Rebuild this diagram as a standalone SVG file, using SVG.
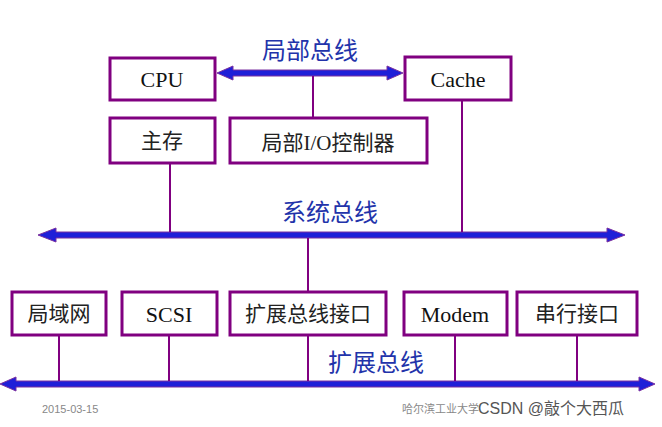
<svg xmlns="http://www.w3.org/2000/svg" width="662" height="427" viewBox="0 0 662 427">
<style>
.box{fill:#fff;stroke:#800080;stroke-width:3}
.ln{stroke:#800080;stroke-width:2;fill:none}
.bus{fill:#1f1fd8;stroke:#7a30a0;stroke-width:1}
.t{font-family:"Liberation Serif","Noto Sans CJK SC",serif;font-size:22px;fill:#111;text-anchor:middle}
.c{font-family:"Liberation Serif","Noto Sans CJK SC",sans-serif;font-size:21px;fill:#222;text-anchor:middle}
.bl{font-family:"Noto Sans CJK SC",sans-serif;font-size:24px;fill:#2233aa;text-anchor:middle}
.f{font-family:"Liberation Sans","Noto Sans CJK SC",sans-serif;font-size:11px;fill:#888}
</style>
<rect width="662" height="427" fill="#fff"/>
<g id="connectors">
<polygon class="bus" points="217,73 233,66 233,70 387,70 387,66 403,73 387,80 387,76 233,76 233,80"/>
<polygon class="bus" points="38,235 56,228 56,232 607,232 607,228 625,235 607,242 607,238 56,238 56,242"/>
<polygon class="bus" points="0,384 16,377 16,381 639,381 639,377 655,384 639,391 639,387 16,387 16,391"/>
<path class="ln" d="M313,76V118M462,100V232M170,163V232M308,238V292M59,335V381M169,335V381M308,335V381M455,335V381M577,335V381"/>
</g>
<g id="cpu"><rect class="box" x="110" y="58" width="105" height="42"/><text class="t" x="162" y="87">CPU</text></g>
<g id="cache"><rect class="box" x="405" y="57" width="106" height="43"/><text class="t" x="458" y="87">Cache</text></g>
<g id="mem"><rect class="box" x="110" y="118" width="105" height="45"/><text class="c" x="162" y="148">主存</text></g>
<g id="lio"><rect class="box" x="230" y="118" width="197" height="45"/><text class="c" x="328" y="150">局部I/O控制器</text></g>
<g id="lan"><rect class="box" x="12" y="292" width="94" height="43"/><text class="c" x="59" y="321">局域网</text></g>
<g id="scsi"><rect class="box" x="122" y="292" width="95" height="43"/><text class="t" x="169" y="322">SCSI</text></g>
<g id="ebi"><rect class="box" x="230" y="292" width="156" height="43"/><text class="c" x="308" y="321">扩展总线接口</text></g>
<g id="modem"><rect class="box" x="404" y="292" width="103" height="43"/><text class="t" x="455" y="322">Modem</text></g>
<g id="serial"><rect class="box" x="517" y="292" width="120" height="43"/><text class="c" x="577" y="321">串行接口</text></g>
<text class="bl" x="310" y="59">局部总线</text>
<text class="bl" x="330" y="221">系统总线</text>
<text class="bl" x="376" y="371">扩展总线</text>
<text class="f" x="42" y="413">2015-03-15</text>
<text class="f" x="402" y="413">哈尔滨工业大学</text>
<text x="478" y="414" font-family="Liberation Sans,Noto Sans CJK SC,sans-serif" font-size="16" fill="#555">CSDN @敲个大西瓜</text>
</svg>
